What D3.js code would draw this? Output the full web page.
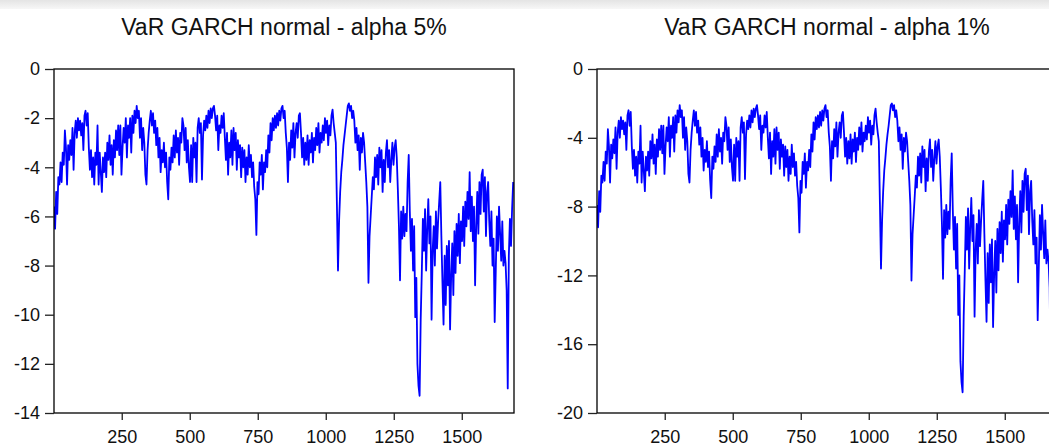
<html lang="en">
<head>
<meta charset="utf-8">
<script src="https://d3js.org/d3.v7.min.js"></script>
<style>
  body { margin: 0; background: #fff; }
  text { font-family: "Liberation Sans", Arial, sans-serif; fill: #111; }
</style>
</head>
<body>
<script>
// observation index: every 4th observation starting at 1
var obsStep = 4;

// VaR GARCH normal, alpha 5%
var var5 = [
  -5.6,-6.5,-5.0,-5.9,-4.4,-4.7,-3.8,-4.6,-3.4,-3.9,
  -2.5,-3.2,-4.7,-3.1,-3.7,-2.9,-3.5,-2.4,-4.1,-2.6,-2.1,-2.8,-2.0,-2.5,-2.1,-2.7,-2.2,-3.3,-1.9,-1.7,-2.3,-1.8,
  -3.2,-4.1,-3.3,-4.4,-3.6,-4.7,-3.4,-3.9,-2.3,-4.7,-3.4,-4.2,-5.0,-3.6,-4.2,-3.4,-4.4,-3.0,-3.7,-2.7,-3.9,-3.1,-4.3,-2.9,-3.6,-2.5,-3.3,-2.3,-3.5,-2.3,-4.3,
  -3.2,-2.4,-3.0,-2.0,-3.6,-2.3,-2.8,-2.0,-3.4,-1.9,-2.6,-1.7,-2.2,-1.5,-2.0,-1.7,-2.8,-2.0,-3.3,-2.4,-3.0,-4.3,-4.7,-3.3,-2.6,-2.1,-1.7,-2.3,-1.8,-2.6,
  -2.1,-3.1,-2.4,-3.6,-2.8,-4.2,-3.3,-3.8,-3.0,-4.0,-3.4,-4.6,-5.3,-3.6,-4.1,-3.2,-3.8,-2.7,-3.6,-2.5,-3.4,-2.8,-3.9,-2.6,-3.0,-2.0,-2.3,-3.3,-2.4,-3.8,
  -2.9,-4.0,-4.6,-3.1,-4.6,-2.8,-3.6,-3.0,-4.6,
  -2.4,-2.0,-2.6,-2.2,-4.5,-2.7,-2.1,-2.5,-1.9,-2.4,-1.7,-2.2,-1.6,-2.0,-1.6,-1.5,-1.9,-2.5,-1.9,-3.3,-2.3,-2.6,-1.9,-2.4,-1.8,-2.8,-3.7,-2.6,-4.3,-3.0,
  -3.6,-2.5,-3.9,-2.4,-3.3,-2.6,-4.1,-2.9,-3.6,-3.1,-4.4,-3.2,-4.0,-3.3,-4.6,-3.6,-4.3,-3.1,-4.0,-3.5,-4.4,-3.8,-4.8,-5.3,-6.75,-4.6,-5.1,-3.8,-4.3,-3.5,
  -4.9,-3.8,-4.2,
  -3.3,-4.0,-2.7,-3.4,-2.2,-2.9,-2.0,-2.5,-1.9,-2.4,-1.8,-2.3,-1.7,-2.1,-1.6,-1.5,-2.0,-1.7,-2.6,-3.2,-4.6,-3.0,-3.7,-2.5,-3.2,-2.2,-3.6,-2.6,-2.2,-2.8,
  -1.9,-1.8,-2.6,-3.6,-2.8,-3.9,-3.0,-3.7,-2.7,-3.9,-2.9,-3.4,-2.6,-3.8,-2.8,-3.3,-2.4,-3.1,-2.2,-3.4,-2.6,-3.0,-2.3,-2.9,-2.0,-2.6,-2.1,-3.1,-2.3,-2.7,
  -1.9,-1.65,-2.2,-2.6,-3.0,-5.5,-8.2,-6.2,-5.0,-4.2,-3.7,-3.1,-2.7,-2.3,-1.9,-1.5,-1.4,-1.7,-1.5,-2.0,-1.7,-2.1,-3.0,-2.4,-3.3,-2.7,-4.1,-2.8,-3.4,-2.6,
  -3.0,-3.8,-4.6,-5.6,-8.7,-6.8,-6.0,-5.2,-4.4,-4.9,-3.6,-4.4,-3.5,-4.7,-3.2,-4.0,-3.3,-5.0,-3.7,-4.6,-3.4,-2.9,-4.0,-3.3,-4.6,-3.7,-3.0,-3.9,-3.2,-2.9,
  -3.6,-4.9,-6.4,-8.6,-5.8,-6.9,-5.6,-6.8,-5.9,-6.6,-4.6,-3.5,-5.8,-7.4,-6.1,-8.2,-6.4,-10.1,-8.5,-12.0,-12.9,-13.3,-10.2,-8.3,-6.1,-7.4,-5.7,-8.2,-6.5,-5.3,
  -7.1,-6.0,-10.2,-7.4,-6.4,-8.0,-5.8,-7.3,-6.2,-5.4,-4.6,-6.8,-8.7,-10.4,-7.6,-9.6,-7.2,-8.8,-7.0,-10.6,-8.4,-7.1,-9.2,-6.6,-8.3,-6.3,-7.6,-5.9,-7.9,-6.2,
  -7.0,-5.6,-7.2,-5.4,-6.4,-5.0,-6.1,-4.2,-6.6,-5.2,-7.0,-5.6,-8.8,-6.4,-5.0,-6.7,-4.6,-5.9,-4.3,-4.1,-5.8,-4.4,-6.8,-5.0,-4.6,-6.2,-7.2,-5.8,-8.0,-6.9,
  -10.3,-8.2,-6.0,-7.4,-5.6,-6.7,-7.8,-6.2,-8.0,-7.4,-7.9,-9.0,-13.0,-7.6,-6.1,-7.2,-5.7,-4.6
];

// VaR GARCH normal, alpha 1%
var var1 = [
  -7.9,-9.2,-7.1,-8.3,-6.2,-6.6,-5.4,-6.5,-4.8,-5.5,
  -3.5,-4.5,-6.6,-4.4,-5.2,-4.1,-4.9,-3.4,-5.8,-3.7,-3.0,-4.0,-2.8,-3.5,-3.0,-3.8,-3.1,-4.7,-2.7,-2.4,-3.3,-2.5,
  -4.5,-5.8,-4.7,-6.2,-5.1,-6.6,-4.8,-5.5,-3.3,-6.6,-4.8,-5.9,-7.1,-5.1,-5.9,-4.8,-6.2,-4.2,-5.2,-3.8,-5.5,-4.4,-6.1,-4.1,-5.1,-3.5,-4.7,-3.3,-4.9,-3.3,-6.1,
  -4.5,-3.4,-4.2,-2.8,-5.1,-3.3,-4.0,-2.8,-4.8,-2.7,-3.7,-2.4,-3.1,-2.1,-2.8,-2.4,-4.0,-2.8,-4.7,-3.4,-4.2,-6.1,-6.6,-4.7,-3.7,-3.0,-2.4,-3.3,-2.5,-3.7,
  -3.0,-4.4,-3.4,-5.1,-4.0,-5.9,-4.7,-5.4,-4.2,-5.7,-4.8,-6.5,-7.5,-5.1,-5.8,-4.5,-5.4,-3.8,-5.1,-3.5,-4.8,-4.0,-5.5,-3.7,-4.2,-2.8,-3.3,-4.7,-3.4,-5.4,
  -4.1,-5.7,-6.5,-4.4,-6.5,-4.0,-5.1,-4.2,-6.5,
  -3.4,-2.8,-3.7,-3.1,-6.4,-3.8,-3.0,-3.5,-2.7,-3.4,-2.4,-3.1,-2.3,-2.8,-2.3,-2.1,-2.7,-3.5,-2.7,-4.7,-3.3,-3.7,-2.7,-3.4,-2.5,-4.0,-5.2,-3.7,-6.1,-4.2,
  -5.1,-3.5,-5.5,-3.4,-4.7,-3.7,-5.8,-4.1,-5.1,-4.4,-6.2,-4.5,-5.7,-4.7,-6.5,-5.1,-6.1,-4.4,-5.7,-4.9,-6.2,-5.4,-6.8,-7.5,-9.5,-6.5,-7.2,-5.4,-6.1,-4.9,
  -6.9,-5.4,-5.9,
  -4.7,-5.7,-3.8,-4.8,-3.1,-4.1,-2.8,-3.5,-2.7,-3.4,-2.5,-3.3,-2.4,-3.0,-2.3,-2.1,-2.8,-2.4,-3.7,-4.5,-6.5,-4.2,-5.2,-3.5,-4.5,-3.1,-5.1,-3.7,-3.1,-4.0,
  -2.7,-2.5,-3.7,-5.1,-4.0,-5.5,-4.2,-5.2,-3.8,-5.5,-4.1,-4.8,-3.7,-5.4,-4.0,-4.7,-3.4,-4.4,-3.1,-4.8,-3.7,-4.2,-3.3,-4.1,-2.8,-3.7,-3.0,-4.4,-3.3,-3.8,
  -2.7,-2.3,-3.1,-3.7,-4.2,-7.8,-11.6,-8.8,-7.1,-5.9,-5.2,-4.4,-3.8,-3.3,-2.7,-2.1,-2.0,-2.4,-2.1,-2.8,-2.4,-3.0,-4.2,-3.4,-4.7,-3.8,-5.8,-4.0,-4.8,-3.7,
  -4.2,-5.4,-6.5,-7.9,-12.3,-9.6,-8.5,-7.4,-6.2,-6.9,-5.1,-6.2,-4.9,-6.6,-4.5,-5.7,-4.7,-7.1,-5.2,-6.5,-4.8,-4.1,-5.7,-4.7,-6.5,-5.2,-4.2,-5.5,-4.5,-4.1,
  -5.1,-6.9,-9.0,-12.2,-8.2,-9.8,-7.9,-9.6,-8.3,-9.3,-6.5,-4.9,-8.2,-10.5,-8.6,-11.6,-9.0,-14.3,-12.0,-17.0,-18.2,-18.8,-14.4,-11.7,-8.6,-10.5,-8.1,-11.6,-9.2,-7.5,
  -10.0,-8.5,-14.4,-10.5,-9.0,-11.3,-8.2,-10.3,-8.8,-7.6,-6.5,-9.6,-12.3,-14.7,-10.7,-13.6,-10.2,-12.4,-9.9,-15.0,-11.9,-10.0,-13.0,-9.3,-11.7,-8.9,-10.7,-8.3,-11.2,-8.8,
  -9.9,-7.9,-10.2,-7.6,-9.0,-7.1,-8.6,-5.9,-9.3,-7.4,-9.9,-7.9,-12.4,-9.0,-7.1,-9.5,-6.5,-8.3,-6.1,-5.8,-8.2,-6.2,-9.6,-7.1,-6.5,-8.8,-10.2,-8.2,-11.3,-9.8,
  -14.6,-11.6,-8.5,-10.5,-7.9,-9.5,-11.0,-8.8,-11.3,-10.5,-11.2,-12.7,-18.4,-10.7,-8.6,-10.2,-8.1,-6.5
];

var xTicks = [250, 500, 750, 1000, 1250, 1500];
var yTicks5 = [0, -2, -4, -6, -8, -10, -12, -14];
var yTicks1 = [0, -4, -8, -12, -16, -20];

var width = 1049, height = 446;
var plotTop = 69, plotBottom = 413;

var svg = d3.select("body").append("svg")
    .attr("width", width)
    .attr("height", height);

// faint grey band along the top edge
var grad = svg.append("defs").append("linearGradient")
    .attr("id", "topband").attr("x1", 0).attr("y1", 0).attr("x2", 0).attr("y2", 1);
grad.append("stop").attr("offset", "0%").attr("stop-color", "#e4e4e4");
grad.append("stop").attr("offset", "100%").attr("stop-color", "#f7f7f7");
svg.append("rect").attr("x", 0).attr("y", 0).attr("width", width).attr("height", 9)
    .attr("fill", "url(#topband)");

var panels = [
  { title: "VaR GARCH normal - alpha 5%", values: var5, left: 54, right: 514, yDomain: [-14, 0], yTicks: yTicks5 },
  { title: "VaR GARCH normal - alpha 1%", values: var1, left: 597, right: 1057, yDomain: [-20, 0], yTicks: yTicks1 }
];

// plain hyphen for negative labels, as in the original
var fmt = function(d) { return String(d); };

panels.forEach(function(p, k) {
  var x = d3.scaleLinear().domain([1, 1692]).range([p.left, p.right]);
  var y = d3.scaleLinear().domain(p.yDomain).range([plotBottom, plotTop]);

  var g = svg.append("g");

  g.append("clipPath").attr("id", "clip" + k)
    .append("rect")
    .attr("x", p.left).attr("y", plotTop)
    .attr("width", p.right - p.left).attr("height", plotBottom - plotTop);

  var line = d3.line()
      .x(function(d, i) { return x(1 + i * obsStep); })
      .y(function(d) { return y(d); });

  g.append("path")
    .datum(p.values)
    .attr("clip-path", "url(#clip" + k + ")")
    .attr("fill", "none")
    .attr("stroke", "#0000ff")
    .attr("stroke-width", 1.8)
    .attr("stroke-linejoin", "round")
    .attr("d", line);

  // frame
  g.append("rect")
    .attr("x", p.left).attr("y", plotTop)
    .attr("width", p.right - p.left).attr("height", plotBottom - plotTop)
    .attr("fill", "none").attr("stroke", "#000").attr("stroke-width", 1.3);

  var yAxis = g.append("g")
    .attr("transform", "translate(" + p.left + ",0)")
    .call(d3.axisLeft(y).tickValues(p.yTicks).tickSize(9).tickSizeOuter(0).tickPadding(5)
          .tickFormat(fmt));
  var xAxis = g.append("g")
    .attr("transform", "translate(0," + plotBottom + ")")
    .call(d3.axisBottom(x).tickValues(xTicks).tickSize(7).tickSizeOuter(0).tickPadding(10)
          .tickFormat(fmt));

  [yAxis, xAxis].forEach(function(a) {
    a.select(".domain").remove();
    a.selectAll("line").attr("stroke", "#222").attr("stroke-width", 1.3);
    a.selectAll("text")
      .attr("font-family", "'Liberation Sans', Arial, sans-serif")
      .attr("font-size", 18)
      .attr("fill", "#111");
  });

  g.append("text")
    .attr("x", (p.left + p.right) / 2)
    .attr("y", 35)
    .attr("text-anchor", "middle")
    .attr("font-size", 23)
    .text(p.title);
});
</script>
</body>
</html>
